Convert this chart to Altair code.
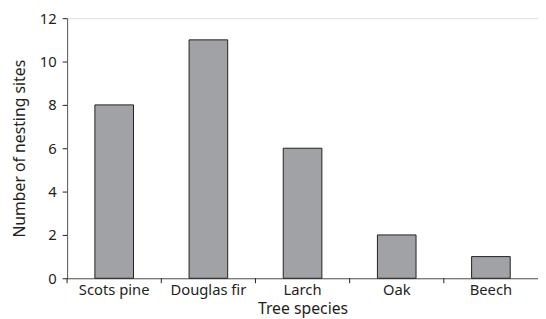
import altair as alt
import pandas as pd

species = ["Scots pine", "Douglas fir", "Larch", "Oak", "Beech"]
sites = [8, 11, 6, 2, 1]
y_ticks = [0, 2, 4, 6, 8, 10, 12]

df = pd.DataFrame({"species": species, "sites": sites})

FONT = "Noto Sans"
W, H = 478, 264

xenc = alt.X("species:N", sort=species, title="Tree species",
             scale=alt.Scale(paddingInner=0, paddingOuter=0),
             axis=alt.Axis(ticks=False, domain=True, domainColor="#555555",
                           labelAngle=0, labelFontSize=15, labelColor="#231f20",
                           labelPadding=4, titleFontSize=16, titleFontWeight="normal",
                           titleColor="#231f20", titlePadding=4, labelFont=FONT, titleFont=FONT))

bars = alt.Chart(df).mark_bar(
    color="#a1a2a5", stroke="#231f20", strokeWidth=1,
    width=alt.RelativeBandSize(0.41)
).encode(
    x=xenc,
    y=alt.Y("sites:Q", title="Number of nesting sites",
            scale=alt.Scale(domain=[0, 12], nice=False),
            axis=alt.Axis(values=y_ticks, tickSize=5, tickColor="#231f20",
                          domainColor="#555555", labelFontSize=15, labelColor="#231f20",
                          labelPadding=6, titleFontSize=16, titleFontWeight="normal",
                          titleColor="#231f20", titlePadding=12, grid=False,
                          labelFont=FONT, titleFont=FONT)),
)

ticks = alt.Chart(df).mark_rule(color="#231f20", strokeWidth=1).encode(
    x=alt.X("species:N", sort=species, bandPosition=0),
    y=alt.value(H),
    y2=alt.value(H + 5),
)

chart = alt.layer(bars, ticks).properties(
    width=W, height=H,
    autosize=alt.AutoSizeParams(type="none"),
    padding={"left": 60, "top": 8, "right": 0, "bottom": 39},
).configure_view(stroke=None).configure(background="white")

chart.save("out.html", embed_options={"renderer": "svg", "actions": False})
